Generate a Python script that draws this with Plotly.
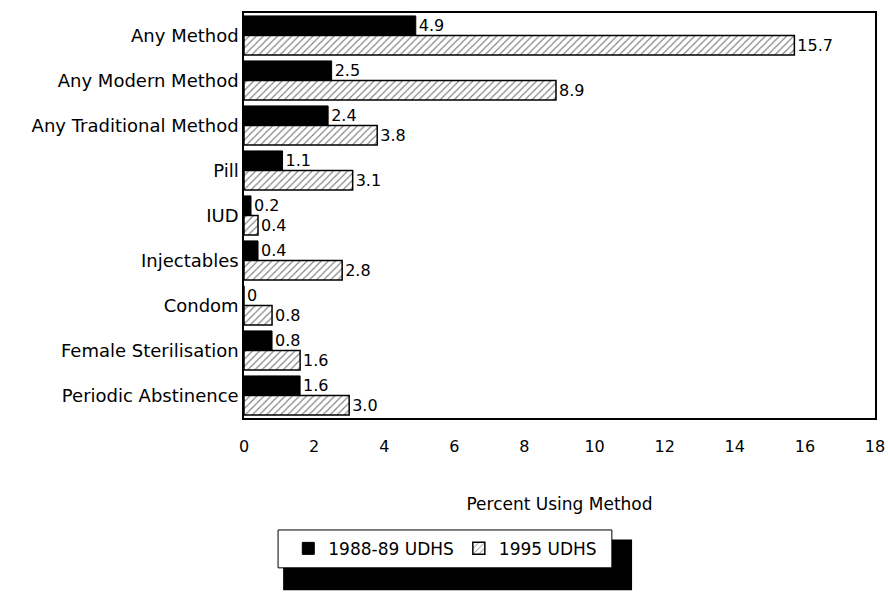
import plotly.graph_objects as go

# contraceptive use, percent of women using each method
methods = ["Any Method", "Any Modern Method", "Any Traditional Method", "Pill", "IUD",
           "Injectables", "Condom", "Female Sterilisation", "Periodic Abstinence"]
udhs_1988 = [4.9, 2.5, 2.4, 1.1, 0.2, 0.4, 0, 0.8, 1.6]
udhs_1995 = [15.7, 8.9, 3.8, 3.1, 0.4, 2.8, 0.8, 1.6, 3.0]
labels_1988 = ["4.9", "2.5", "2.4", "1.1", "0.2", "0.4", "0", "0.8", "1.6"]
labels_1995 = ["15.7", "8.9", "3.8", "3.1", "0.4", "2.8", "0.8", "1.6", "3.0"]
x_ticks = list(range(0, 19, 2))

FONT = "DejaVu Sans, sans-serif"

fig = go.Figure()
fig.add_trace(go.Bar(
    y=methods, x=udhs_1988, orientation="h", name="1988-89 UDHS",
    marker=dict(color="black", line=dict(color="black", width=1)),
    text=labels_1988, textposition="outside", cliponaxis=False,
    textfont=dict(size=16, color="black"),
))
fig.add_trace(go.Bar(
    y=methods, x=udhs_1995, orientation="h", name="1995 UDHS",
    marker=dict(color="white", line=dict(color="black", width=1.5),
                pattern=dict(shape="/", fgcolor="black", bgcolor="white",
                             size=5, solidity=0.22)),
    text=labels_1995, textposition="outside", cliponaxis=False,
    textfont=dict(size=16, color="black"),
))

# legend frame with drop shadow (drawn as shapes behind the legend)
fig.add_shape(type="rect", xref="paper", yref="paper",
              x0=0.062, x1=0.615, y0=-0.425, y1=-0.30,
              fillcolor="black", line=dict(width=0), layer="below")
fig.add_shape(type="rect", xref="paper", yref="paper",
              x0=0.054, x1=0.583, y0=-0.370, y1=-0.2765,
              fillcolor="white", line=dict(color="black", width=1), layer="below")

fig.update_layout(
    width=888, height=593, autosize=False,
    margin=dict(l=244, r=13, t=13, b=175, autoexpand=False),
    paper_bgcolor="white", plot_bgcolor="white",
    barmode="group", bargap=0.13, bargroupgap=0,
    font=dict(family=FONT, size=18, color="black"),
    showlegend=True,
    legend=dict(orientation="h", x=0.319, xanchor="center", y=-0.323, yanchor="middle",
                bgcolor="rgba(0,0,0,0)", font=dict(size=17), traceorder="normal",
                itemwidth=30),
)
fig.update_xaxes(
    range=[0, 18], tickvals=x_ticks, showgrid=False, zeroline=False, automargin=False,
    showline=True, linecolor="black", linewidth=1.5, mirror=True,
    ticks="", ticklabelstandoff=13, tickfont=dict(size=16),
    title=dict(text="Percent Using Method", standoff=43, font=dict(size=17)),
)
fig.update_yaxes(
    autorange="reversed", showgrid=False, zeroline=False, automargin=False,
    showline=True, linecolor="black", linewidth=1.5, mirror=True,
    ticks="", ticklabelstandoff=0,
)

# drop the default body margin and scrollbars so the figure fills the window exactly
fig.write_html(
    "out.html",
    config={"displayModeBar": False, "responsive": False},
    post_script="document.body.style.margin='0';document.body.style.overflow='hidden';",
)
